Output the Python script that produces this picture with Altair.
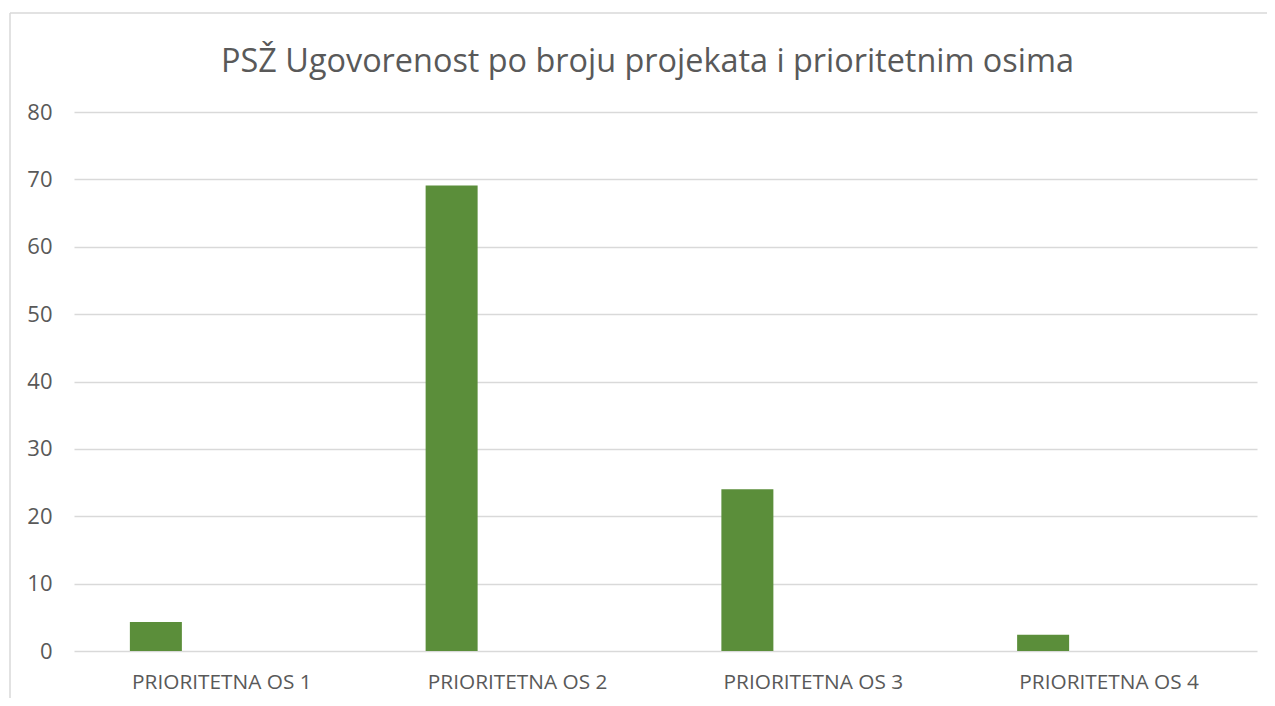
import altair as alt
import pandas as pd

categories = ["PRIORITETNA OS 1", "PRIORITETNA OS 2", "PRIORITETNA OS 3", "PRIORITETNA OS 4"]
values = [4.3, 69.1, 24.0, 2.4]
y_ticks = [0, 10, 20, 30, 40, 50, 60, 70, 80]
title_text = "PSŽ Ugovorenost po broju projekata i prioritetnim osima"

df = pd.DataFrame({"os": categories, "broj": values})

FONT = "Open Sans"
TXT = "#595959"
GRID = "#d9d9d9"

bars = alt.Chart(df).mark_bar(color="#5B8E3A", width=52, xOffset=-66).encode(
    x=alt.X("os:N", sort=categories, title=None,
            scale=alt.Scale(paddingInner=0, paddingOuter=0),
            axis=alt.Axis(labelAngle=0, labelFont=FONT, labelFontSize=20.8, labelColor=TXT,
                          labelPadding=21, ticks=False, domain=False, grid=False)),
    y=alt.Y("broj:Q", title=None,
            scale=alt.Scale(domain=[0, 80], nice=False),
            axis=alt.Axis(values=y_ticks, labelFont=FONT, labelFontSize=22, labelColor=TXT,
                          labelPadding=22, ticks=False, domain=False,
                          grid=True, gridColor=GRID, gridWidth=1.5)),
)

# decorative chart frame (top and left edges)
frame_top = alt.Chart().mark_rule(color=GRID, strokeWidth=1.5).encode(
    x=alt.value(-64), x2=alt.value(1210), y=alt.value(-99))
frame_left = alt.Chart().mark_rule(color=GRID, strokeWidth=1.5).encode(
    x=alt.value(-64), y=alt.value(-99), y2=alt.value(600))

chart = alt.layer(bars, frame_top, frame_left).properties(
    width=1183, height=539,
    background="white",
    title=alt.TitleParams(title_text, font=FONT, fontSize=32.4, fontWeight="normal",
                          color=TXT, anchor="middle", offset=-66, dx=-18),
    autosize=alt.AutoSizeParams(type="none"),
    padding={"left": 66, "top": 104, "right": 10, "bottom": 47},
).configure_view(stroke=None)

chart.save("out.html", embed_options={"renderer": "svg", "actions": False})
